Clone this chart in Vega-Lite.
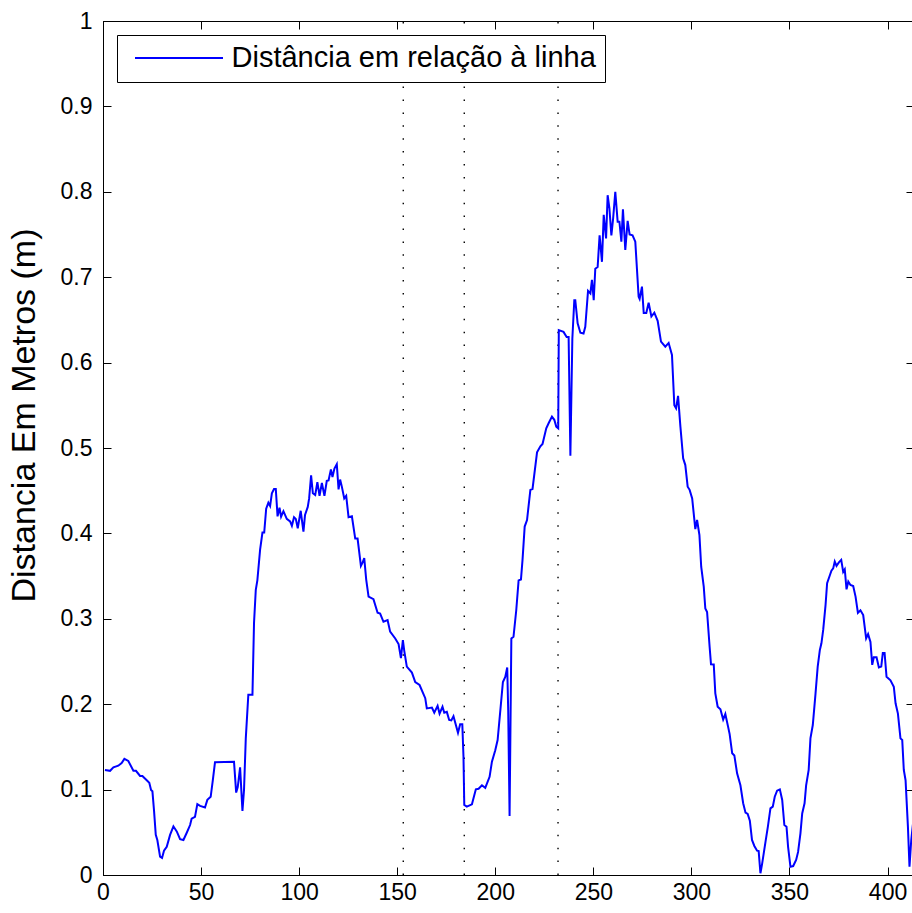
{
  "$schema": "https://vega.github.io/schema/vega-lite/v6.json",
  "width": 811,
  "height": 854,
  "autosize": "none",
  "padding": {"left": 103, "top": 21, "right": 0, "bottom": 38},
  "background": "white",
  "config": {
    "view": {"stroke": "black", "strokeWidth": 1},
    "font": "Liberation Sans",
    "axis": {
      "grid": false,
      "domainColor": "black",
      "domainWidth": 1,
      "tickColor": "black",
      "tickWidth": 1,
      "tickSize": -8,
      "labelColor": "black",
      "labelFont": "Liberation Sans",
      "labelFontSize": 23,
      "labelFlush": false,
      "titleFont": "Liberation Sans",
      "titleFontSize": 34,
      "titleFontWeight": "normal",
      "titleColor": "black"
    }
  },
  "datasets": {
    "marks": [{"x": 153.1}, {"x": 184.2}, {"x": 232.0}],
    "dist": [
      {"x":1,"y":0.123},{"x":3.6,"y":0.122},{"x":5.3,"y":0.126},{"x":7.8,"y":0.128},{"x":9.5,"y":0.131},{"x":10.9,"y":0.136},{"x":12.9,"y":0.1335},{"x":15.5,"y":0.122},{"x":16.8,"y":0.122},{"x":18.9,"y":0.116},{"x":20.1,"y":0.116},{"x":22.3,"y":0.111},{"x":23.6,"y":0.108},{"x":24.5,"y":0.0995},{"x":25.2,"y":0.098},{"x":26,"y":0.076},{"x":26.9,"y":0.047},{"x":27.7,"y":0.041},{"x":29.1,"y":0.0215},{"x":30.1,"y":0.02},{"x":31.1,"y":0.0285},{"x":32.5,"y":0.033},{"x":34.2,"y":0.047},{"x":35.9,"y":0.057},{"x":37.6,"y":0.051},{"x":39.3,"y":0.042},{"x":41,"y":0.041},{"x":42.7,"y":0.0495},{"x":44.4,"y":0.0585},{"x":45.2,"y":0.066},{"x":46.9,"y":0.068},{"x":48.1,"y":0.083},{"x":49.5,"y":0.081},{"x":52,"y":0.079},{"x":53.2,"y":0.088},{"x":54.9,"y":0.0915},{"x":56,"y":0.111},{"x":57.1,"y":0.132},{"x":66.8,"y":0.1325},{"x":67.9,"y":0.0965},{"x":68.7,"y":0.103},{"x":69.9,"y":0.126},{"x":71.1,"y":0.075},{"x":71.9,"y":0.0995},{"x":72.8,"y":0.16},{"x":74.1,"y":0.211},{"x":76.2,"y":0.211},{"x":77,"y":0.295},{"x":77.9,"y":0.334},{"x":78.7,"y":0.345},{"x":80.1,"y":0.381},{"x":81.3,"y":0.401},{"x":82.2,"y":0.401},{"x":83.2,"y":0.429},{"x":84.3,"y":0.436},{"x":85.2,"y":0.432},{"x":86.1,"y":0.447},{"x":87.2,"y":0.452},{"x":88.1,"y":0.452},{"x":89,"y":0.42},{"x":90,"y":0.43},{"x":90.8,"y":0.4195},{"x":92,"y":0.426},{"x":93.7,"y":0.417},{"x":95.4,"y":0.414},{"x":96.3,"y":0.409},{"x":97.4,"y":0.419},{"x":98.3,"y":0.417},{"x":99.3,"y":0.406},{"x":100.8,"y":0.4265},{"x":102.2,"y":0.402},{"x":103,"y":0.4215},{"x":104.4,"y":0.431},{"x":105.1,"y":0.441},{"x":106.1,"y":0.468},{"x":107,"y":0.447},{"x":108.2,"y":0.445},{"x":109.3,"y":0.46},{"x":110.4,"y":0.444},{"x":111.6,"y":0.459},{"x":112.9,"y":0.444},{"x":114.1,"y":0.4615},{"x":115,"y":0.462},{"x":116.2,"y":0.475},{"x":117,"y":0.466},{"x":118,"y":0.476},{"x":119.2,"y":0.481},{"x":120.1,"y":0.4515},{"x":120.9,"y":0.463},{"x":121.8,"y":0.4545},{"x":123,"y":0.441},{"x":124,"y":0.444},{"x":125.2,"y":0.419},{"x":126.9,"y":0.42},{"x":128.6,"y":0.394},{"x":129.8,"y":0.394},{"x":131.5,"y":0.362},{"x":132.4,"y":0.366},{"x":133.2,"y":0.371},{"x":134.2,"y":0.346},{"x":135.4,"y":0.326},{"x":137.9,"y":0.323},{"x":140,"y":0.307},{"x":141.3,"y":0.306},{"x":143,"y":0.2965},{"x":145.1,"y":0.2985},{"x":146.4,"y":0.285},{"x":149,"y":0.277},{"x":150.7,"y":0.2705},{"x":151.9,"y":0.254},{"x":152.9,"y":0.275},{"x":153.6,"y":0.2625},{"x":154.9,"y":0.244},{"x":157.5,"y":0.237},{"x":159.2,"y":0.226},{"x":161.4,"y":0.2225},{"x":164.3,"y":0.207},{"x":165.1,"y":0.195},{"x":167.7,"y":0.196},{"x":168.9,"y":0.19},{"x":170.6,"y":0.198},{"x":171.6,"y":0.189},{"x":173.1,"y":0.197},{"x":174,"y":0.19},{"x":175.3,"y":0.191},{"x":176.5,"y":0.1815},{"x":177.6,"y":0.181},{"x":178.7,"y":0.186},{"x":181,"y":0.1665},{"x":182.1,"y":0.1765},{"x":183.2,"y":0.1765},{"x":183.8,"y":0.1385},{"x":184.2,"y":0.082},{"x":185.5,"y":0.08},{"x":188.1,"y":0.0828},{"x":190.1,"y":0.1003},{"x":191.5,"y":0.101},{"x":193.2,"y":0.105},{"x":194.9,"y":0.102},{"x":197.1,"y":0.115},{"x":198.3,"y":0.1327},{"x":200,"y":0.146},{"x":201.2,"y":0.158},{"x":202.6,"y":0.193},{"x":203.9,"y":0.226},{"x":205.1,"y":0.232},{"x":206.1,"y":0.243},{"x":206.6,"y":0.193},{"x":207.3,"y":0.069},{"x":208.2,"y":0.277},{"x":209.3,"y":0.279},{"x":210.7,"y":0.31},{"x":211.9,"y":0.345},{"x":213.1,"y":0.346},{"x":213.9,"y":0.369},{"x":215,"y":0.408},{"x":216.2,"y":0.4157},{"x":217.9,"y":0.451},{"x":219,"y":0.452},{"x":221.3,"y":0.495},{"x":223,"y":0.502},{"x":224.1,"y":0.5047},{"x":226,"y":0.523},{"x":227.2,"y":0.529},{"x":228.9,"y":0.5367},{"x":230.1,"y":0.533},{"x":231.1,"y":0.525},{"x":232.1,"y":0.523},{"x":232.4,"y":0.638},{"x":234.8,"y":0.636},{"x":236.4,"y":0.63},{"x":237.4,"y":0.63},{"x":238.3,"y":0.491},{"x":239.3,"y":0.628},{"x":240.3,"y":0.673},{"x":240.8,"y":0.673},{"x":242,"y":0.646},{"x":243.4,"y":0.635},{"x":245,"y":0.634},{"x":245.9,"y":0.642},{"x":247.3,"y":0.684},{"x":248.5,"y":0.681},{"x":249.3,"y":0.697},{"x":250.2,"y":0.673},{"x":251,"y":0.71},{"x":252.2,"y":0.712},{"x":253.2,"y":0.749},{"x":254.4,"y":0.718},{"x":255.3,"y":0.773},{"x":256.5,"y":0.7455},{"x":257.3,"y":0.796},{"x":258.2,"y":0.7806},{"x":259.2,"y":0.749},{"x":260.1,"y":0.769},{"x":261.2,"y":0.8},{"x":262.4,"y":0.765},{"x":263.3,"y":0.765},{"x":264.3,"y":0.7416},{"x":265.1,"y":0.7795},{"x":266.3,"y":0.732},{"x":267.5,"y":0.766},{"x":268.5,"y":0.75},{"x":270,"y":0.749},{"x":271.4,"y":0.7416},{"x":273.1,"y":0.677},{"x":273.6,"y":0.6745},{"x":274.8,"y":0.689},{"x":275.7,"y":0.658},{"x":277,"y":0.658},{"x":278.2,"y":0.67},{"x":279.6,"y":0.654},{"x":281.1,"y":0.6585},{"x":282.8,"y":0.649},{"x":284.5,"y":0.6245},{"x":286.7,"y":0.6186},{"x":288.4,"y":0.623},{"x":290.1,"y":0.609},{"x":291.3,"y":0.55},{"x":292.2,"y":0.5465},{"x":293.2,"y":0.561},{"x":294.4,"y":0.525},{"x":295.8,"y":0.488},{"x":296.9,"y":0.48},{"x":298.1,"y":0.4547},{"x":299.1,"y":0.451},{"x":300.4,"y":0.441},{"x":302,"y":0.405},{"x":302.9,"y":0.4157},{"x":304.1,"y":0.398},{"x":305,"y":0.361},{"x":306.3,"y":0.3376},{"x":307.1,"y":0.312},{"x":308,"y":0.308},{"x":309.3,"y":0.267},{"x":310,"y":0.2467},{"x":311.4,"y":0.2465},{"x":312.2,"y":0.2127},{"x":313.4,"y":0.197},{"x":314.8,"y":0.194},{"x":316.2,"y":0.182},{"x":317.3,"y":0.1885},{"x":318.7,"y":0.1737},{"x":319.5,"y":0.165},{"x":320.8,"y":0.1425},{"x":321.9,"y":0.14},{"x":323.3,"y":0.119},{"x":325,"y":0.105},{"x":326.4,"y":0.084},{"x":327.6,"y":0.073},{"x":328.7,"y":0.0715},{"x":329.8,"y":0.0636},{"x":330.9,"y":0.041},{"x":332.1,"y":0.034},{"x":333.5,"y":0.0285},{"x":334.3,"y":0.028},{"x":335.2,"y":0.002},{"x":336.1,"y":0.0137},{"x":337.8,"y":0.039},{"x":339,"y":0.0566},{"x":340.3,"y":0.078},{"x":341.5,"y":0.08},{"x":342.5,"y":0.0917},{"x":343.7,"y":0.0987},{"x":345.1,"y":0.1003},{"x":346.3,"y":0.0878},{"x":347.4,"y":0.0585},{"x":348.5,"y":0.0566},{"x":349.3,"y":0.033},{"x":350.5,"y":0.0097},{"x":351.9,"y":0.0105},{"x":353.4,"y":0.0176},{"x":354.4,"y":0.027},{"x":355.6,"y":0.0488},{"x":356.5,"y":0.072},{"x":357.7,"y":0.084},{"x":358.5,"y":0.105},{"x":359.8,"y":0.123},{"x":360.7,"y":0.16},{"x":361.9,"y":0.1756},{"x":363.3,"y":0.2127},{"x":364.4,"y":0.244},{"x":365.5,"y":0.2635},{"x":366.3,"y":0.2713},{"x":367.2,"y":0.287},{"x":368.4,"y":0.316},{"x":369.2,"y":0.3416},{"x":370.6,"y":0.351},{"x":371.4,"y":0.3563},{"x":372.3,"y":0.359},{"x":373.1,"y":0.367},{"x":374,"y":0.362},{"x":375.2,"y":0.366},{"x":376.4,"y":0.369},{"x":377.4,"y":0.355},{"x":378.2,"y":0.358},{"x":379.1,"y":0.3345},{"x":380,"y":0.3435},{"x":381.1,"y":0.3396},{"x":382.5,"y":0.3384},{"x":383.7,"y":0.326},{"x":384.9,"y":0.307},{"x":386.2,"y":0.31},{"x":387.6,"y":0.3044},{"x":389.1,"y":0.277},{"x":390.1,"y":0.282},{"x":391.3,"y":0.273},{"x":392.2,"y":0.246},{"x":393,"y":0.255},{"x":394.4,"y":0.255},{"x":395.6,"y":0.243},{"x":396.8,"y":0.244},{"x":397.6,"y":0.26},{"x":398.5,"y":0.26},{"x":399.5,"y":0.232},{"x":401.5,"y":0.228},{"x":403.2,"y":0.2205},{"x":404.1,"y":0.201},{"x":405.3,"y":0.189},{"x":406.6,"y":0.16},{"x":407.5,"y":0.158},{"x":408.3,"y":0.123},{"x":409.2,"y":0.111},{"x":410.4,"y":0.0566},{"x":411.2,"y":0.0097},{"x":412.1,"y":0.041},{"x":412.8,"y":0.056},{"x":413.5,"y":0.07}
    ]
  },
  "layer": [
    {
      "data": {"name": "marks"},
      "mark": {"type": "rule", "color": "black", "strokeWidth": 1.4, "strokeDash": [1.5, 11.4], "strokeCap": "butt"},
      "encoding": {
        "x": {"field": "x", "type": "quantitative", "scale": {"domain": [0, 413.5], "nice": false, "zero": false},
              "axis": {"orient": "top", "labels": false, "title": null, "values": [0, 50, 100, 150, 200, 250, 300, 350, 400]}},
        "y": {"datum": 0, "type": "quantitative", "scale": {"domain": [0, 1], "nice": false},
              "axis": {"orient": "right", "labels": false, "title": null, "values": [0, 0.1, 0.2, 0.3, 0.4, 0.5, 0.6, 0.7, 0.8, 0.9, 1]}},
        "y2": {"datum": 1}
      }
    },
    {
      "data": {"name": "dist"},
      "mark": {"type": "line", "color": "#0000ff", "strokeWidth": 2, "clip": true},
      "encoding": {
        "x": {"field": "x", "type": "quantitative",
              "axis": {"orient": "bottom", "title": null, "format": "d", "labelPadding": 14, "labelFlush": false, "values": [0, 50, 100, 150, 200, 250, 300, 350, 400]}},
        "y": {"field": "y", "type": "quantitative",
              "axis": {"orient": "left", "title": "Distancia Em Metros (m)", "format": "~g", "labelPadding": 19, "labelFlush": false, "titlePadding": 19, "titleY": 394, "values": [0, 0.1, 0.2, 0.3, 0.4, 0.5, 0.6, 0.7, 0.8, 0.9, 1]}},
        "color": {"datum": "Distância em relação à linha", "type": "nominal",
                  "scale": {"range": ["#0000ff"]},
                  "legend": {"orient": "top-left", "offset": 14, "title": null, "fillColor": "white", "strokeColor": "black",
                             "padding": 8.4, "symbolType": "M-1,0H6.04", "symbolSize": 625, "symbolStrokeWidth": 2,
                             "symbolOffset": 7.6, "labelOffset": 69.5, "labelFontSize": 29, "labelFont": "Liberation Sans",
                             "labelColor": "black", "labelLimit": 0}}
      }
    }
  ],
  "resolve": {"axis": {"x": "independent", "y": "independent"}}
}
